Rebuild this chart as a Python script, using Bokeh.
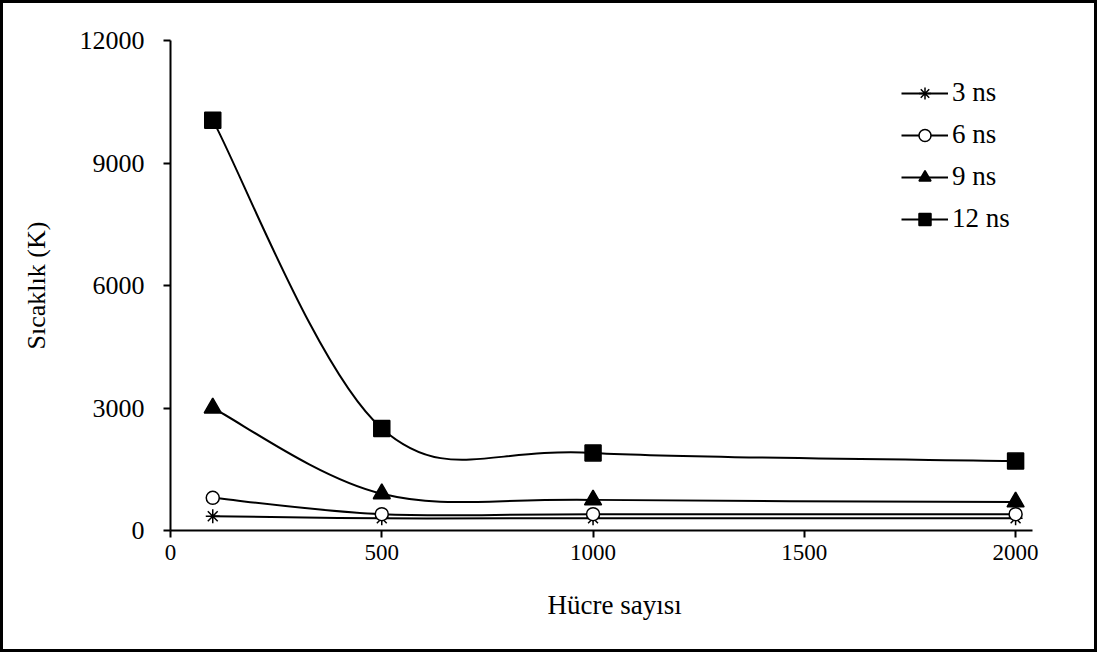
from bokeh.plotting import figure
from bokeh.models import Legend, LegendItem, Range1d, FixedTicker, Title
from bokeh.embed import file_html
from bokeh.resources import INLINE

# Cell counts and temperatures (K) for each simulation time
cells = [100, 500, 1000, 2000]
t3ns = [350, 300, 300, 300]
t6ns = [800, 400, 400, 400]
t9ns = [3000, 900, 750, 700]
t12ns = [10050, 2500, 1900, 1700]

x_ticks = [0, 500, 1000, 1500, 2000]
y_ticks = [0, 3000, 6000, 9000, 12000]

FONT = "Liberation Serif"


def smooth_segments(xs, ys, k=6.0):
    """Cubic Bezier segments (Catmull-Rom style) through the points."""
    n = len(xs)
    seg = dict(x0=[], y0=[], x1=[], y1=[], cx0=[], cy0=[], cx1=[], cy1=[])
    for i in range(n - 1):
        xp, yp = (xs[i - 1], ys[i - 1]) if i > 0 else (xs[i], ys[i])
        xn, yn = (xs[i + 2], ys[i + 2]) if i + 2 < n else (xs[i + 1], ys[i + 1])
        seg["x0"].append(xs[i]); seg["y0"].append(ys[i])
        seg["x1"].append(xs[i + 1]); seg["y1"].append(ys[i + 1])
        seg["cx0"].append(xs[i] + (xs[i + 1] - xp) / k)
        seg["cy0"].append(ys[i] + (ys[i + 1] - yp) / k)
        seg["cx1"].append(xs[i + 1] - (xn - xs[i]) / k)
        seg["cy1"].append(ys[i + 1] - (yn - ys[i]) / k)
    return seg


W, H = 1097, 652
p = figure(width=W, height=H, output_backend="svg", toolbar_location=None,
           x_range=Range1d(0, 2040), y_range=Range1d(0, 12000),
           min_border_left=167, min_border_right=W - 1029,
           min_border_top=37, min_border_bottom=H - 527)
p.styles = {"border": "3px solid black"}
p.outline_line_color = None
p.grid.grid_line_color = None
p.background_fill_color = "white"
p.border_fill_color = "white"

for ax in (p.xaxis[0], p.yaxis[0]):
    ax.axis_line_width = 2
    ax.axis_line_color = "black"
    ax.major_tick_line_width = 2
    ax.major_tick_line_color = "black"
    ax.major_tick_in = 0
    ax.major_tick_out = 7
    ax.minor_tick_line_color = None
    ax.major_label_text_font = FONT
    ax.major_label_text_color = "black"
    ax.axis_label_text_font = FONT
    ax.axis_label_text_font_style = "normal"
    ax.axis_label_text_color = "black"

p.xaxis.ticker = FixedTicker(ticks=x_ticks)
p.yaxis.ticker = FixedTicker(ticks=y_ticks)
p.xaxis.major_label_text_font_size = "23px"
p.yaxis.major_label_text_font_size = "26px"
p.xaxis.major_label_standoff = 7
p.yaxis.major_label_standoff = 19
p.yaxis.axis_label = "Sıcaklık (K)"
p.yaxis.axis_label_text_font_size = "26px"
p.yaxis.axis_label_standoff = 26

# x-axis title, set a little right of the axis centre
p.add_layout(Title(text="Hücre sayısı", align="left", offset=377,
                   text_font=FONT, text_font_size="27px",
                   text_font_style="normal", text_color="black",
                   standoff=50), "below")

series = [
    ("3 ns", t3ns, "asterisk", 14, "black"),
    ("6 ns", t6ns, "circle", 13, "white"),
    ("9 ns", t9ns, "triangle", 17, "black"),
    ("12 ns", t12ns, "square", 16, "black"),
]

items = []
for label, ys, marker, size, fill in series:
    seg = smooth_segments(cells, ys)
    p.bezier(x0="x0", y0="y0", x1="x1", y1="y1", cx0="cx0", cy0="cy0",
             cx1="cx1", cy1="cy1", source=seg, line_color="black", line_width=2)
    key = p.line(cells, ys, line_color="black", line_width=2, visible=False)
    pts = p.scatter(cells, ys, marker=marker, size=size, fill_color=fill,
                    line_color="black", line_width=1.5)
    items.append(LegendItem(label=label, renderers=[key, pts]))

legend = Legend(items=items, location=(731, 296), orientation="vertical",
                glyph_width=47, glyph_height=30, label_height=30,
                label_standoff=4, spacing=11, padding=0, margin=0,
                label_text_font=FONT, label_text_font_size="27px",
                label_text_color="black",
                border_line_color=None, background_fill_alpha=0)
p.add_layout(legend)

open("out.html", "w").write(file_html(p, INLINE))
